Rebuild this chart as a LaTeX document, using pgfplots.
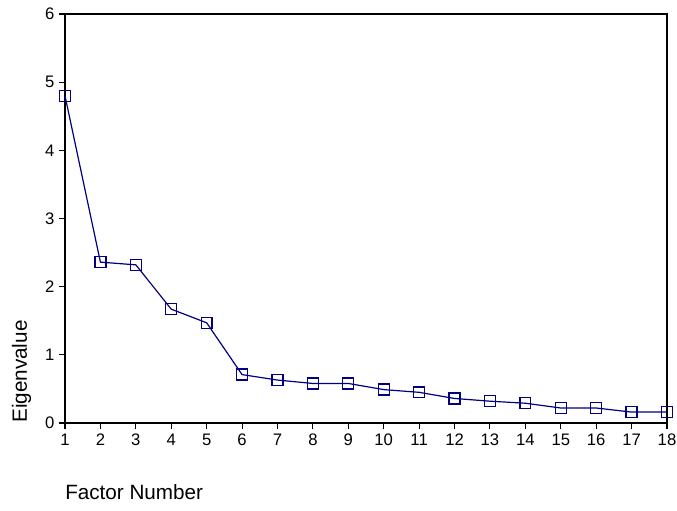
\documentclass[border=0pt]{standalone}
\usepackage{pgfplots}
\pgfplotsset{compat=1.18}
\usepackage{fontspec}
\setmainfont{Liberation Sans}
\definecolor{navyline}{HTML}{000080}
\begin{document}
\begin{tikzpicture}
\path[use as bounding box] (-48.75pt,-65.25pt) rectangle (459pt,317.25pt);
\begin{axis}[
  at={(0,0)}, anchor=south west,
  scale only axis, width=451.5pt, height=306.75pt,
  xmin=1, xmax=18, ymin=0, ymax=6,
  xtick={1,...,18}, ytick={0,...,6},
  tick align=outside, major tick length=4.5pt,
  xtick pos=bottom, ytick pos=left,
  axis line style={line width=1pt, black},
  every tick/.style={black, line width=0.8pt},
  /pgf/number format/assume math mode=true,
  ticklabel style={font=\fontsize{12.5pt}{14pt}\selectfont},
  clip=false,
]
\addplot[color=navyline, line width=0.9pt, mark=square, mark size=4.1pt,
  mark options={draw=navyline, line width=1pt, fill=none, solid}] coordinates {
(1,4.80) (2,2.36) (3,2.32) (4,1.67) (5,1.47) (6,0.71) (7,0.63) (8,0.58)
(9,0.58) (10,0.49) (11,0.45) (12,0.36) (13,0.32) (14,0.29) (15,0.22)
(16,0.22) (17,0.16) (18,0.16)
};
\end{axis}
\node[rotate=90, anchor=base west, inner sep=0pt, font=\fontsize{15.5pt}{18pt}\selectfont] at (-28.5pt,0) {Eigenvalue};
\node[anchor=base west, inner sep=0pt, font=\fontsize{15.5pt}{18pt}\selectfont] at (0,-57pt) {Factor Number};
\end{tikzpicture}
\end{document}
